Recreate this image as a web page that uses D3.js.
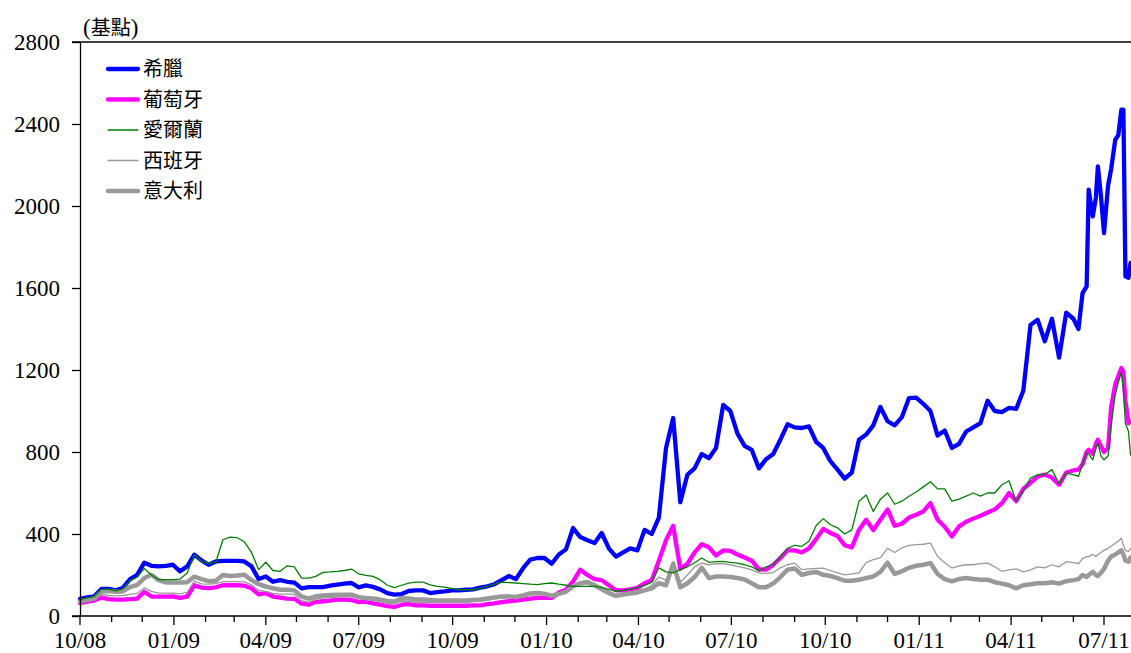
<!DOCTYPE html>
<html lang="zh-Hant">
<head>
<meta charset="UTF-8">
<title>Sovereign spreads</title>
<script src="https://d3js.org/d3.v7.min.js"></script>
<style>
  body { margin: 0; background: #fff; }
  svg { display: block; }
  .num { font-family: "Liberation Serif", "Times New Roman", serif; font-size: 23px; fill: #000; }
  .cjk { font-family: "Noto Sans CJK TC", sans-serif; font-size: 20px; fill: #000; }
</style>
</head>
<body>
<svg id="chart" width="1131" height="653"></svg>
<script>
// weekly observations from 1 Oct 2008 to 1 Jun 2011, then denser points to late Jul 2011
var weekStart = new Date(2008, 9, 1);
var weeklyDates = d3.range(140).map(function(i) { return d3.timeDay.offset(weekStart, 7 * i); });
var tailDates = ["2011-06-06","2011-06-10","2011-06-14","2011-06-16","2011-06-20","2011-06-23",
  "2011-06-25","2011-06-28","2011-07-01","2011-07-05","2011-07-08","2011-07-12","2011-07-15",
  "2011-07-18","2011-07-20","2011-07-22","2011-07-25","2011-07-27"].map(d3.timeParse("%Y-%m-%d"));
var dates = weeklyDates.concat(tailDates);

var greece = [84,91,96,132,132,125,137,180,201,260,
  245,242,245,250,218,242,299,271,250,266,
  269,269,269,266,242,180,193,167,175,167,
  163,135,141,141,141,148,153,158,161,140,
  149,142,130,112,104,107,122,125,125,112,
  116,120,125,125,128,130,138,145,155,175,
  195,180,233,275,283,283,255,300,325,429,
  385,370,356,405,330,290,310,330,320,420,
  400,480,820,966,555,690,720,790,770,820,
  1030,1000,890,830,810,720,765,790,860,935,
  920,917,925,850,820,755,714,670,700,860,
  885,930,1020,950,930,970,1063,1065,1035,1000,
  880,905,820,840,900,920,941,1050,1000,995,
  1015,1010,1100,1420,1445,1340,1450,1260,1480,1450,
  1400,1575,1608,2080,1949,2039,2193,2050,1868,2100,2180,2323,2345,2470,2470,1657,1650,1722];

var portugal = [63,70,75,90,82,80,80,82,85,118,
  95,95,95,96,88,95,150,138,136,140,
  150,150,150,148,135,105,112,95,90,85,
  84,60,55,68,72,75,80,80,78,68,
  70,62,55,48,44,55,58,52,52,50,
  50,50,50,50,50,52,52,58,62,68,
  72,75,80,85,88,88,88,115,128,169,
  226,200,180,175,150,125,125,130,137,160,
  175,270,370,440,230,255,310,350,335,295,
  320,318,300,285,270,228,226,250,283,320,
  320,310,330,375,425,405,390,345,335,420,
  470,420,470,520,440,450,480,494,510,551,
  470,435,388,437,460,475,489,505,520,550,
  600,560,620,650,680,690,675,640,700,710,
  714,740,800,811,790,840,860,830,800,820,1020,1130,1170,1210,1190,1050,940,950];

var ireland = [80,88,95,130,130,122,132,172,190,232,
  200,177,177,177,180,210,299,265,258,262,
  372,385,382,362,310,226,262,222,218,245,
  240,185,185,193,213,215,218,222,229,205,
  198,193,177,150,138,150,160,165,165,152,
  145,141,135,128,128,128,135,145,155,165,
  163,161,158,155,153,158,161,155,150,145,
  145,145,145,140,130,120,125,130,140,148,
  165,235,215,210,226,240,260,283,262,265,
  266,262,258,250,240,220,240,250,290,330,
  345,340,365,440,475,445,430,400,420,560,
  590,510,570,600,545,560,584,605,630,655,
  620,620,560,570,585,600,585,600,600,640,
  660,560,610,673,689,690,714,645,697,690,
  681,740,795,790,762,820,844,780,762,780,930,1080,1140,1190,1100,940,900,785];

var spain = [68,75,80,105,100,98,100,105,110,137,
  120,112,112,112,108,115,170,157,155,158,
  168,168,168,166,152,125,120,110,107,107,
  105,75,68,82,88,90,92,95,95,85,
  80,76,70,62,60,72,70,67,67,67,
  67,67,67,67,67,70,72,78,85,88,
  90,90,96,104,106,104,100,112,122,150,
  165,172,158,140,120,105,112,118,122,130,
  150,190,175,266,165,200,240,258,250,255,
  255,250,242,235,225,210,208,212,235,250,
  258,226,230,232,234,222,210,201,205,210,
  260,275,285,330,310,332,345,348,350,356,
  290,260,234,245,250,250,255,258,240,218,
  225,230,215,225,240,235,250,240,265,260,
  255,280,290,290,300,290,300,310,320,330,340,355,365,380,345,320,315,330];

var italy = [71,78,85,120,122,118,120,141,152,185,
  201,175,164,164,164,165,192,180,170,172,
  200,195,198,201,175,155,144,135,128,128,
  125,95,85,96,100,102,104,104,104,92,
  88,85,80,73,71,86,85,80,80,78,
  76,76,76,76,76,78,80,85,90,95,
  95,93,100,110,112,108,99,108,118,145,
  160,165,150,130,112,98,105,110,115,125,
  135,160,150,255,140,160,190,235,185,193,
  193,190,185,178,160,140,140,158,190,226,
  232,201,210,215,201,195,185,172,172,177,
  185,193,215,260,205,218,235,245,250,258,
  205,180,169,180,185,180,177,177,165,158,
  150,135,150,155,160,160,165,158,170,175,
  180,200,190,200,215,200,195,210,230,270,290,300,310,320,300,270,265,285];

var seriesNames = ["希臘", "葡萄牙", "愛爾蘭", "西班牙", "意大利"];
var seriesValues = [greece, portugal, ireland, spain, italy];
var seriesColors = ["#0000ff", "#ff00ff", "#008000", "#999999", "#999999"];
var seriesWidths = [4.3, 4.3, 1.3, 1.3, 4.5];
var yTicks = [0, 400, 800, 1200, 1600, 2000, 2400, 2800];
var quarterMonths = [0, 3, 6, 9];

var svg = d3.select("#chart");
var plotLeft = 80, plotRight = 1131, plotTop = 42, plotBottom = 616;

var x = d3.scaleTime()
  .domain([new Date(2008, 9, 1), new Date(2011, 6, 1)])
  .range([80, 1104]);
var y = d3.scaleLinear().domain([0, 2800]).range([plotBottom, plotTop]);

// lines (draw order: last on top)
var drawOrder = [0, 1, 3, 4, 2];
var line = d3.line()
  .x(function(d) { return x(d[0]); })
  .y(function(d) { return y(d[1]); });

drawOrder.forEach(function(k) {
  var pts = dates.map(function(d, i) { return [d, seriesValues[k][i]]; });
  svg.append("path")
    .datum(pts)
    .attr("d", line)
    .attr("fill", "none")
    .attr("stroke", seriesColors[k])
    .attr("stroke-width", seriesWidths[k])
    .attr("stroke-linejoin", "round")
    .attr("stroke-linecap", "round");
});

// frame: top line and left axis
svg.append("line").attr("x1", 72).attr("x2", plotRight).attr("y1", plotTop).attr("y2", plotTop)
  .attr("stroke", "#000").attr("stroke-width", 1.3);

var yAxis = d3.axisLeft(y).tickValues(yTicks).tickSize(8).tickSizeOuter(0).tickPadding(12)
  .tickFormat(d3.format("d"));
var gy = svg.append("g").attr("transform", "translate(" + plotLeft + ",0)").call(yAxis);
gy.attr("font-family", null).attr("font-size", null);
gy.selectAll("text").attr("class", "num");
gy.selectAll("line, path").attr("stroke", "#000").attr("stroke-width", 1.3);

// bottom axis with monthly ticks
var months = d3.timeMonth.range(new Date(2008, 9, 1), new Date(2011, 8, 1));
svg.append("line").attr("x1", 72).attr("x2", plotRight).attr("y1", plotBottom).attr("y2", plotBottom)
  .attr("stroke", "#000").attr("stroke-width", 1.3);
var fmt = d3.timeFormat("%m/%y");
months.forEach(function(m) {
  var major = quarterMonths.indexOf(m.getMonth()) >= 0;
  svg.append("line")
    .attr("x1", x(m)).attr("x2", x(m))
    .attr("y1", plotBottom).attr("y2", plotBottom + (major ? 9 : 6))
    .attr("stroke", "#000").attr("stroke-width", 1.3);
  if (major) {
    svg.append("text").attr("class", "num")
      .attr("x", x(m)).attr("y", plotBottom + 32)
      .attr("text-anchor", "middle")
      .text(fmt(m));
  }
});

// unit label
var unit = svg.append("text").attr("x", 83).attr("y", 35);
unit.append("tspan").attr("class", "num").text("(");
unit.append("tspan").attr("class", "cjk").attr("font-size", 21).text("基點");
unit.append("tspan").attr("class", "num").text(")");

// legend
seriesNames.forEach(function(name, k) {
  var ly = 69 + k * 30.5;
  svg.append("line")
    .attr("x1", 108).attr("x2", 138).attr("y1", ly).attr("y2", ly)
    .attr("stroke", seriesColors[k]).attr("stroke-width", seriesWidths[k])
    .attr("stroke-linecap", "round");
  svg.append("text").attr("class", "cjk")
    .attr("x", 143).attr("y", ly + 7)
    .text(name);
});
</script>
</body>
</html>
